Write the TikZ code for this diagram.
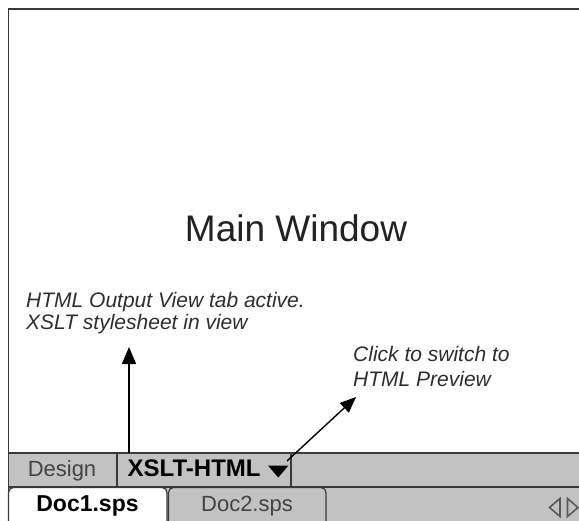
\documentclass[tikz,border=0pt]{standalone}
\usepackage{fontspec}
\setmainfont{Liberation Sans}
\usetikzlibrary{arrows.meta}
\definecolor{framec}{HTML}{3A3A3A}
\definecolor{barfill}{HTML}{C2C2C2}
\definecolor{textc}{HTML}{222222}
\definecolor{annoc}{HTML}{2E2E2E}
\tikzset{
  frame/.style={draw=framec, line width=1.8bp},
  thinframe/.style={draw=framec, line width=1.2bp},
  annotxt/.style={font=\fontsize{21bp}{24bp}\selectfont\itshape, text=annoc, inner sep=0pt, anchor=base west},
  tabtxt/.style={font=\fontsize{22bp}{26bp}\selectfont, text=textc!85!white, inner sep=0pt, anchor=base},
  tabbold/.style={font=\fontsize{23bp}{26bp}\selectfont\bfseries, text=black, inner sep=0pt},
  pointer/.style={draw=black, line width=1.4bp, -{Triangle[width=14bp,length=17bp]}},
  navtri/.style={draw=black!65, line width=1.6bp, line join=miter}
}
\begin{document}
\begin{tikzpicture}[x=1bp,y=-1bp]
\useasboundingbox (0,0) rectangle (579,521);
% window frame
\fill[white] (8.5,9) rectangle (600,540);
\draw[frame] (600,9) -- (8.5,9) -- (8.5,540);
% view tab bar
\fill[barfill] (8.5,452.7) rectangle (600,540);
\draw[frame] (8.5,452.7) -- (600,452.7);
\draw[frame] (8.5,486.7) -- (600,486.7);
\draw[frame] (117,452.7) -- (117,486.7);
\draw[frame] (291,452.7) -- (291,486.7);
% document tabs
\filldraw[fill=white, thinframe, rounded corners=5bp] (8.5,540) -- (8.5,487.5) -- (167,487.5) -- (167,540);
\filldraw[fill=barfill, thinframe, rounded corners=5bp] (168.5,540) -- (168.5,487.5) -- (326,487.5) -- (326,540);
\draw[frame] (8.5,452.7) -- (8.5,540);
% texts
\node[font=\fontsize{37bp}{40bp}\selectfont, text=textc, inner sep=0pt, anchor=base] (main) at (296,241.7) {Main Window};
\node[annotxt] (annoA) at (26,307) {HTML Output View tab active.};
\node[annotxt] (annoB) at (26,329) {XSLT stylesheet in view};
\node[annotxt] (clickA) at (353,361.7) {Click to switch to};
\node[annotxt] (clickB) at (353,386) {HTML Preview};
\node[tabtxt] (design) at (62,476) {Design};
\node[tabbold, font=\fontsize{24bp}{26bp}\selectfont\bfseries, anchor=base west] (xslt) at (127.5,476) {XSLT-HTML};
\fill[black] (268,465.5) -- (288.5,465.5) -- (278.2,477.5) -- cycle;
\node[tabbold, anchor=base] (doc1) at (87.5,511.7) {Doc1.sps};
\node[tabtxt] (doc2) at (247,511.7) {Doc2.sps};
% nav triangles
\draw[navtri] (560,498.5) -- (560,516.5) -- (549.5,507.5) -- cycle;
\draw[navtri] (567.5,498.5) -- (567.5,516.5) -- (578,507.5) -- cycle;
% pointers
\coordinate (p1s) at (129,452.7);
\coordinate (p1e) at (129,347);
\coordinate (p2s) at (287,461);
\coordinate (p2e) at (356,397);
\draw[pointer] (p1s) -- (p1e);
\draw[pointer, -{Triangle[width=13bp,length=16bp]}] (p2s) -- (p2e);
\end{tikzpicture}
\end{document}
